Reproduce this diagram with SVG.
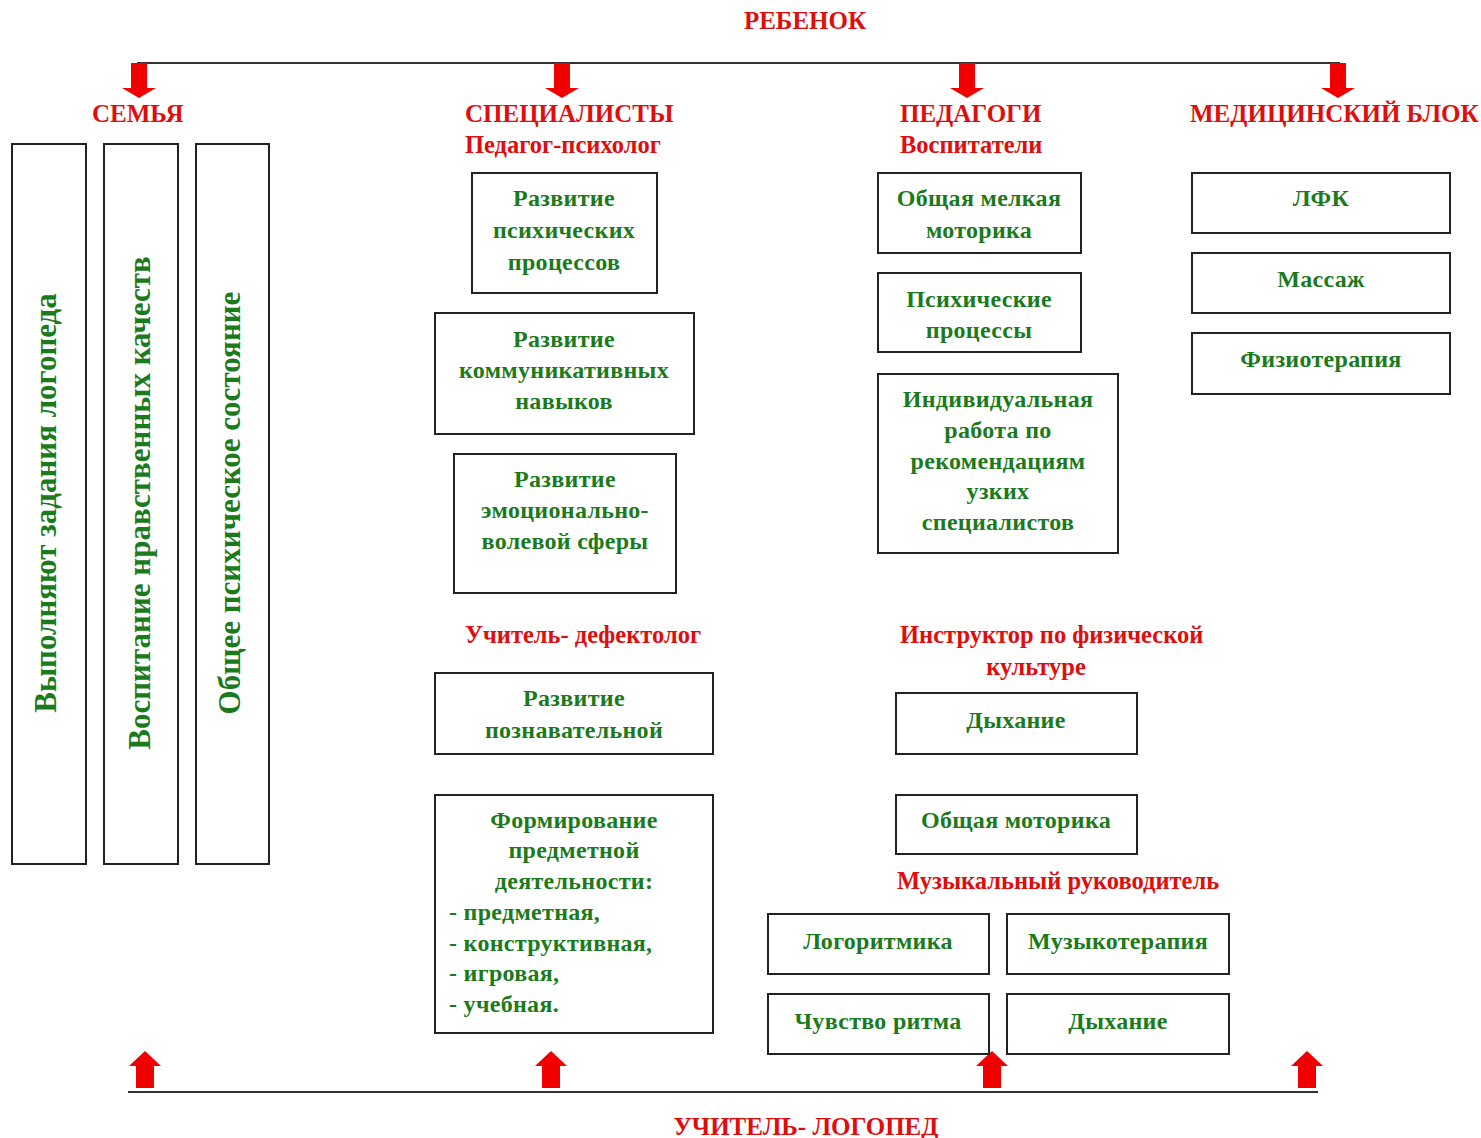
<svg xmlns="http://www.w3.org/2000/svg" width="1481" height="1138" viewBox="0 0 1481 1138">
<defs>
<style>
.bx{fill:#fff;stroke:#222;stroke-width:2}
.g{font-family:"Liberation Serif","Times New Roman",serif;font-weight:bold;font-size:24px;fill:#1b7a1b;text-anchor:middle;letter-spacing:0.3px}
.gl{font-family:"Liberation Serif","Times New Roman",serif;font-weight:bold;font-size:24px;fill:#1b7a1b;letter-spacing:0.3px}
.v{font-family:"Liberation Serif","Times New Roman",serif;font-weight:bold;font-size:31px;fill:#1b7a1b;text-anchor:middle}
.r{font-family:"Liberation Serif","Times New Roman",serif;font-weight:bold;font-size:25px;fill:#e00d0d}
.rs{font-family:"Liberation Serif","Times New Roman",serif;font-weight:bold;font-size:24.5px;fill:#e00d0d}
.ln{stroke:#333;stroke-width:2;fill:none}
.ar{fill:#f00000}
</style>
<polygon id="dn" points="-8,0 8,0 8,25 17,25 0,35 -17,25 -8,25"/>
<polygon id="up" points="-9,0 9,0 9,-22 16,-22 0,-37 -16,-22 -9,-22"/>
</defs>

<g id="connectors">
<line class="ln" x1="137" y1="63" x2="1340" y2="63"/>
<use href="#dn" class="ar" x="139" y="63"/>
<use href="#dn" class="ar" x="562" y="63"/>
<use href="#dn" class="ar" x="967" y="63"/>
<use href="#dn" class="ar" x="1338" y="63"/>
<line class="ln" x1="128" y1="1092" x2="1318" y2="1092"/>
<use href="#up" class="ar" x="145" y="1088"/>
<use href="#up" class="ar" x="551" y="1088"/>
<use href="#up" class="ar" x="992" y="1088"/>
<use href="#up" class="ar" x="1307" y="1088"/>
</g>

<g id="titles">
<text class="r" x="805" y="29" text-anchor="middle">РЕБЕНОК</text>
<text class="r" x="92" y="122">СЕМЬЯ</text>
<text class="r" x="465" y="122">СПЕЦИАЛИСТЫ</text>
<text class="rs" x="465" y="153">Педагог-психолог</text>
<text class="r" x="900" y="122">ПЕДАГОГИ</text>
<text class="rs" x="900" y="153">Воспитатели</text>
<text class="r" x="1190" y="122">МЕДИЦИНСКИЙ БЛОК</text>
<text class="rs" x="465" y="643">Учитель- дефектолог</text>
<text class="rs" x="900" y="643">Инструктор по физической</text>
<text class="rs" x="1036" y="675" text-anchor="middle">культуре</text>
<text class="rs" x="897" y="889">Музыкальный руководитель</text>
<text class="r" x="806" y="1135" text-anchor="middle">УЧИТЕЛЬ- ЛОГОПЕД</text>
</g>

<g id="family1"><rect class="bx" x="12" y="144" width="74" height="720"/>
<text class="v" transform="translate(56,503) rotate(-90)">Выполняют задания логопеда</text></g>
<g id="family2"><rect class="bx" x="104" y="144" width="74" height="720"/>
<text class="v" transform="translate(150,503) rotate(-90)">Воспитание нравственных качеств</text></g>
<g id="family3"><rect class="bx" x="196" y="144" width="73" height="720"/>
<text class="v" transform="translate(240,503) rotate(-90)">Общее психическое состояние</text></g>

<g id="spec1"><rect class="bx" x="472" y="173" width="185" height="120"/>
<text class="g" x="564" y="206">Развитие</text><text class="g" x="564" y="238">психических</text><text class="g" x="564" y="270">процессов</text></g>
<g id="spec2"><rect class="bx" x="435" y="313" width="259" height="121"/>
<text class="g" x="564" y="347">Развитие</text><text class="g" x="564" y="378">коммуникативных</text><text class="g" x="564" y="409">навыков</text></g>
<g id="spec3"><rect class="bx" x="454" y="454" width="222" height="139"/>
<text class="g" x="565" y="487">Развитие</text><text class="g" x="565" y="518">эмоционально-</text><text class="g" x="565" y="549">волевой сферы</text></g>
<g id="def1"><rect class="bx" x="435" y="673" width="278" height="81"/>
<text class="g" x="574" y="706">Развитие</text><text class="g" x="574" y="738">познавательной</text></g>
<g id="def2"><rect class="bx" x="435" y="795" width="278" height="238"/>
<text class="g" x="574" y="828">Формирование</text><text class="g" x="574" y="858">предметной</text><text class="g" x="574" y="889">деятельности:</text>
<text class="gl" x="449" y="920">- предметная,</text><text class="gl" x="449" y="951">- конструктивная,</text><text class="gl" x="449" y="981">- игровая,</text><text class="gl" x="449" y="1012">- учебная.</text></g>

<g id="ped1"><rect class="bx" x="878" y="173" width="203" height="80"/>
<text class="g" x="979" y="206">Общая мелкая</text><text class="g" x="979" y="238">моторика</text></g>
<g id="ped2"><rect class="bx" x="878" y="273" width="203" height="79"/>
<text class="g" x="979" y="307">Психические</text><text class="g" x="979" y="338">процессы</text></g>
<g id="ped3"><rect class="bx" x="878" y="374" width="240" height="179"/>
<text class="g" x="998" y="407">Индивидуальная</text><text class="g" x="998" y="438">работа по</text><text class="g" x="998" y="469">рекомендациям</text><text class="g" x="998" y="499">узких</text><text class="g" x="998" y="530">специалистов</text></g>

<g id="fiz1"><rect class="bx" x="896" y="693" width="241" height="61"/>
<text class="g" x="1016" y="728">Дыхание</text></g>
<g id="fiz2"><rect class="bx" x="896" y="795" width="241" height="59"/>
<text class="g" x="1016" y="828">Общая моторика</text></g>

<g id="mus1"><rect class="bx" x="768" y="914" width="221" height="60"/>
<text class="g" x="878" y="949">Логоритмика</text></g>
<g id="mus2"><rect class="bx" x="1007" y="914" width="222" height="60"/>
<text class="g" x="1118" y="949">Музыкотерапия</text></g>
<g id="mus3"><rect class="bx" x="768" y="994" width="221" height="60"/>
<text class="g" x="878" y="1029">Чувство ритма</text></g>
<g id="mus4"><rect class="bx" x="1007" y="994" width="222" height="60"/>
<text class="g" x="1118" y="1029">Дыхание</text></g>

<g id="med1"><rect class="bx" x="1192" y="173" width="258" height="60"/>
<text class="g" x="1321" y="206">ЛФК</text></g>
<g id="med2"><rect class="bx" x="1192" y="253" width="258" height="60"/>
<text class="g" x="1321" y="287">Массаж</text></g>
<g id="med3"><rect class="bx" x="1192" y="333" width="258" height="61"/>
<text class="g" x="1321" y="367">Физиотерапия</text></g>
</svg>
